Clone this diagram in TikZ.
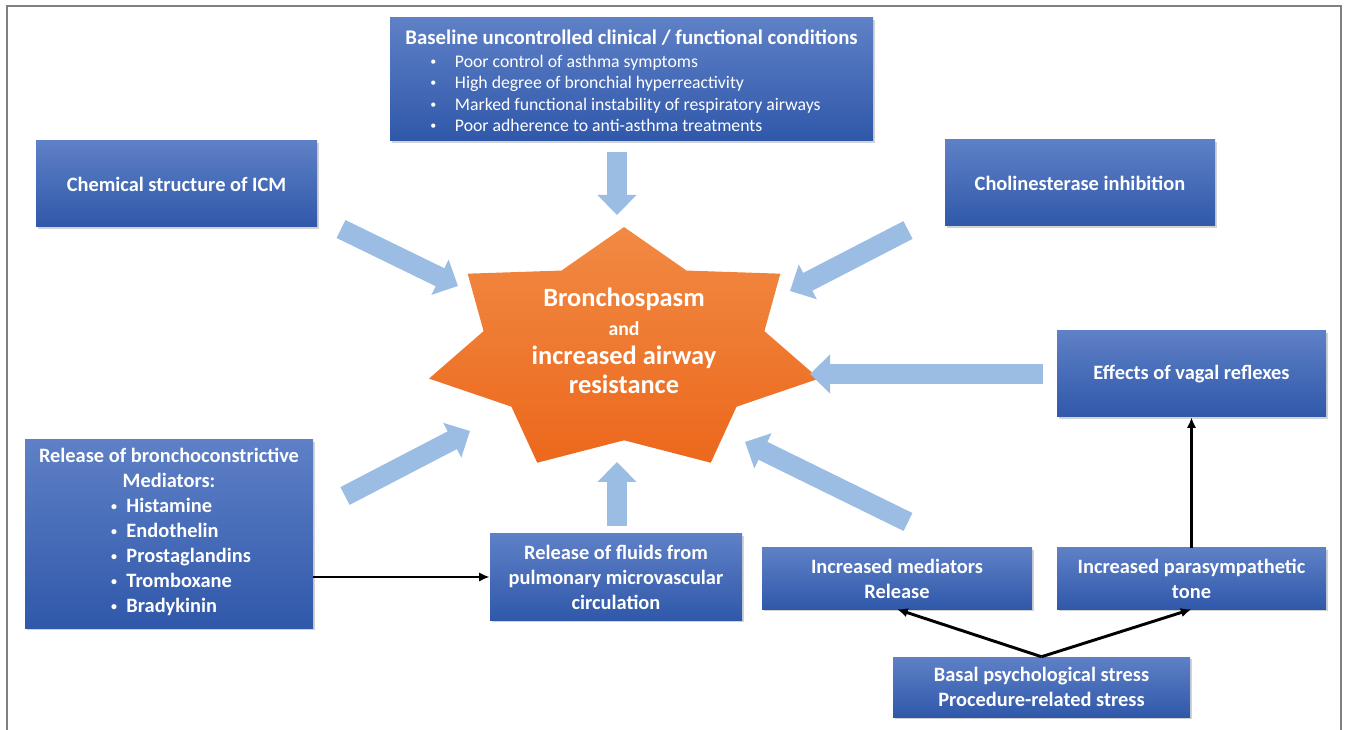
\documentclass[tikz,border=0pt]{standalone}
\usepackage{fontspec}
\setmainfont{Carlito}
\usetikzlibrary{arrows.meta,shadows}
\definecolor{boxtop}{RGB}{94,128,198}
\definecolor{boxbot}{RGB}{48,88,170}
\definecolor{startop}{RGB}{241,138,68}
\definecolor{starbot}{RGB}{236,104,28}
\definecolor{fatblue}{RGB}{155,189,228}
\newcommand{\itemdot}{\raisebox{1.3pt}{\fontsize{9}{9}\selectfont\textbullet}}

\begin{document}
\begin{tikzpicture}[x=0.75pt,y=-0.75pt,
    box/.style={top color=boxtop,bottom color=boxbot,text=white,align=center,inner sep=0pt,
      font=\bfseries\fontsize{15.3}{18.8}\selectfont,
      drop shadow={shadow xshift=1.2pt,shadow yshift=-1.5pt,opacity=0.35}},
    fat/.style={fatblue,line width=15pt,-{Triangle[width=28.5pt,length=15pt]}},
    link/.style={line width=2.2pt,-{Latex[length=8pt,width=7pt]}}]
  \useasboundingbox (0,0) rectangle (1346,730);
  \draw[gray,line width=1.5pt] (7,730) -- (7,6) -- (1341,6) -- (1341,730);

  \begin{scope}[shift={(624,351)}]
    \path[top color=startop,bottom color=starbot] (-90:200 and 124)
      \foreach \k in {1,...,6}{ -- (-90+\k*51.4286-25.7143:144 and 89.3) -- (-90+\k*51.4286:200 and 124)}
      -- (-115.7143:144 and 89.3) -- cycle;
  \end{scope}
  \node[text=white,align=center,font=\bfseries\fontsize{19.8}{21.8}\selectfont] (core) at (624,340.5)
    {Bronchospasm\\{\fontsize{14.8}{21.8}\selectfont and}\\increased airway\\resistance};

  \node[box,minimum width=362.25pt,minimum height=92.25pt,font=\bfseries\fontsize{15.6}{19}\selectfont] (base) at (631.5,79.5)
    {\rule{0pt}{17.5pt}Baseline uncontrolled clinical / functional conditions\\[-1.75pt]
     {\mdseries\fontsize{13.3}{16.1}\selectfont\begin{tabular}[t]{@{}l@{\hspace{14pt}}l@{\hspace{9pt}}}
       \itemdot & Poor control of asthma symptoms\\
       \itemdot & High degree of bronchial hyperreactivity\\
       \itemdot & Marked functional instability of respiratory airways\\
       \itemdot & Poor adherence to anti-asthma treatments
     \end{tabular}}};
  \node[box,minimum width=210.75pt,minimum height=64.5pt] (chem) at (176.5,184) {Chemical structure of ICM};
  \node[box,minimum width=202.5pt,minimum height=64.5pt] (chol) at (1080,183) {Cholinesterase inhibition};
  \node[box,minimum width=201.75pt,minimum height=64.5pt] (vagal) at (1191.5,374) {Effects of vagal reflexes};
  \node[box,minimum width=216pt,minimum height=141pt] (media) at (169,534)
    {Release of bronchoconstrictive\\Mediators:\\
     \begin{tabular}[t]{@{\hspace{18pt}}l@{\hspace{7pt}}l@{}}
       \itemdot & Histamine\\
       \itemdot & Endothelin\\
       \itemdot & Prostaglandins\\
       \itemdot & Tromboxane\\
       \itemdot & Bradykinin
     \end{tabular}};
  \node[box,minimum width=189pt,minimum height=64.5pt] (fluid) at (616,577)
    {Release of fluids from\\pulmonary microvascular\\circulation};
  \node[box,minimum width=202.5pt,minimum height=45.75pt] (incmed) at (897,578.5) {Increased mediators\\Release};
  \node[box,minimum width=201.75pt,minimum height=45.75pt] (para) at (1191.5,578.5) {Increased parasympathetic\\tone};
  \node[box,minimum width=222.75pt,minimum height=45pt] (stress) at (1041.5,687)
    {Basal psychological stress\\Procedure-related stress};

  \coordinate (c1) at (617,152);  \coordinate (s1) at (617,215);
  \coordinate (c2) at (341,229);  \coordinate (s2) at (458,286);
  \coordinate (c3) at (908,230);  \coordinate (s3) at (790,291);
  \coordinate (c4) at (1043,374); \coordinate (s4) at (810,374);
  \coordinate (c5) at (345,496);  \coordinate (s5) at (470,431);
  \coordinate (c6) at (617,526);  \coordinate (s6) at (617,462);
  \coordinate (c7) at (908,522);  \coordinate (s7) at (745,442);
  \foreach \i in {1,...,7}
    \draw[fat] (c\i) -- (s\i);

  \draw[link] (media.east |- fluid.west) -- (fluid.west);
  \draw[link] (stress.north) -- (incmed.south);
  \draw[link] (stress.north) -- (para.south);
  \draw[link] (para.north) -- (vagal.south);
\end{tikzpicture}
\end{document}
